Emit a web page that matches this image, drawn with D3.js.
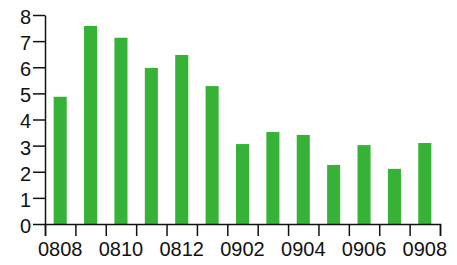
<!DOCTYPE html>
<html>
<head>
<meta charset="utf-8">
<script src="https://cdn.jsdelivr.net/npm/d3@7"></script>
<style>
  html, body { margin: 0; padding: 0; background: #fff; }
  svg { display: block; }
  text { font-family: "Liberation Sans", Arial, sans-serif; }
</style>
</head>
<body>
<svg id="chart" width="457" height="265"></svg>
<script>
const categories = ["0808","0809","0810","0811","0812","0901","0902","0903","0904","0905","0906","0907","0908"];
const values = [4.87, 7.58, 7.13, 5.97, 6.47, 5.28, 3.06, 3.52, 3.41, 2.26, 3.02, 2.11, 3.10];
const yTicks = [0,1,2,3,4,5,6,7,8];
const xLabelCategories = ["0808","0810","0812","0902","0904","0906","0908"];

(function () {
const svg = d3.select("#chart");
const mLeft = 45, mRight = 440, mTop = 15, mBottom = 224;

const x = d3.scaleBand().domain(categories).range([mLeft, mRight])
  .paddingInner(0.57).paddingOuter(0.285);
const xIdx = d3.scaleLinear().domain([0, categories.length]).range([mLeft, mRight]);
const y = d3.scaleLinear().domain([0, 8]).range([mBottom, mTop]);

svg.append("g").selectAll("rect").data(values).join("rect")
  .attr("x", (d, i) => x(categories[i]))
  .attr("width", x.bandwidth())
  .attr("y", d => y(d))
  .attr("height", d => y(0) - y(d))
  .attr("fill", "#36b236");

// x axis: ticks at band boundaries
const gx = svg.append("g").attr("transform", `translate(0,${mBottom})`)
  .call(d3.axisBottom(xIdx).tickValues(d3.range(categories.length + 1))
    .tickFormat("").tickSize(12).tickSizeOuter(12));
gx.selectAll("path, line").attr("stroke", "#111").attr("stroke-width", 1.5);

svg.append("g").selectAll("text").data(xLabelCategories).join("text")
  .attr("x", d => x(d) + x.bandwidth() / 2)
  .attr("y", 242)
  .attr("dy", "0.71em")
  .attr("text-anchor", "middle")
  .attr("font-size", 20)
  .attr("fill", "#111")
  .text(d => d);

// y axis
const gy = svg.append("g").attr("transform", `translate(${mLeft},0)`)
  .call(d3.axisLeft(y).tickValues(yTicks).tickFormat(d3.format("d"))
    .tickSize(12).tickSizeOuter(0).tickPadding(2));
gy.selectAll("path, line").attr("stroke", "#111").attr("stroke-width", 1.5);
gy.selectAll("text").attr("font-size", 20).attr("fill", "#111")
  .attr("font-family", "'Liberation Sans', Arial, sans-serif").attr("dy", "0.42em");
})();
</script>
</body>
</html>
